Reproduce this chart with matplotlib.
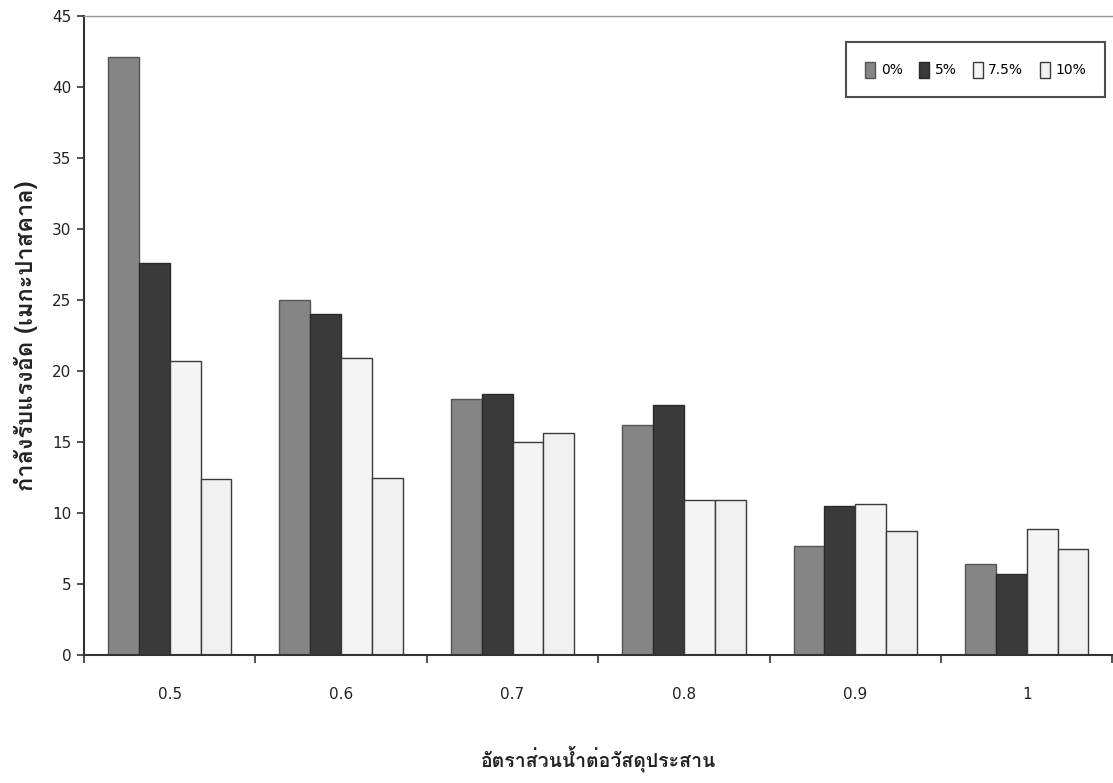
import matplotlib
matplotlib.use("Agg")
import matplotlib.pyplot as plt
import numpy as np
from matplotlib import font_manager
from matplotlib.ft2font import FT2Font

categories = ["0.5", "0.6", "0.7", "0.8", "0.9", "1"]
series_names = ["0%", "5%", "7.5%", "10%"]
s0 = [42.1, 25.0, 18.0, 16.2, 7.7, 6.4]
s5 = [27.6, 24.0, 18.4, 17.6, 10.5, 5.7]
s75 = [20.7, 20.9, 15.0, 10.9, 10.6, 8.9]
s10 = [12.4, 12.5, 15.6, 10.9, 8.7, 7.5]
y_ticks = [0, 5, 10, 15, 20, 25, 30, 35, 40, 45]
xlabel = "อัตราส่วนน้ำต่อวัสดุประสาน"
ylabel = "กำลังรับแรงอัด (เมกะปาสคาล)"

# find a font with Thai glyphs
thai_font = None
for f in font_manager.fontManager.ttflist:
    try:
        cm = FT2Font(f.fname).get_charmap()
        if 0x0E01 in cm and 0x0E32 in cm:
            thai_font = f.name
            break
    except Exception:
        pass
fams = ([thai_font] if thai_font else []) + ["DejaVu Sans"]

fig = plt.figure(figsize=(11.13, 7.83), dpi=100)
ax = fig.add_axes([84/1113, (783-655)/783, (1113-84)/1113 - 0.0005, (655-16)/783])

series = [s0, s5, s75, s10]
colors = ["#858585", "#3a3a3a", "#f4f4f4", "#f0f0f0"]
edges = ["#555555", "#2a2a2a", "#3a3a3a", "#3a3a3a"]
w = 0.18
x = np.arange(len(categories))
for i, (vals, c, e, name) in enumerate(zip(series, colors, edges, series_names)):
    ax.bar(x + (i - 1.5) * w, vals, width=w, color=c, edgecolor=e, linewidth=1.0, label=name)

ax.set_xlim(-0.5, len(categories) - 0.5)
ax.set_ylim(0, 45)
ax.set_yticks(y_ticks)
ax.set_yticklabels([str(t) for t in y_ticks], fontsize=11, color="#222222")
ax.set_xticks(x)
ax.set_xticklabels(categories, fontsize=11, color="#222222")
ax.tick_params(axis="x", length=0, pad=23)
ax.set_xticks(np.arange(len(categories) + 1) - 0.5, minor=True)
ax.tick_params(axis="x", which="minor", length=6, width=1.2, color="#333333", direction="out")
ax.tick_params(axis="y", length=5, width=1.2, color="#333333", direction="out", pad=4)

for s in ["left", "bottom"]:
    ax.spines[s].set_color("#333333")
    ax.spines[s].set_linewidth(1.5)
ax.spines["top"].set_color("#999999")
ax.spines["top"].set_linewidth(1.0)
ax.spines["right"].set_visible(False)

ax.set_xlabel(xlabel, fontsize=14, fontweight="bold", family=fams, color="#222222", labelpad=31)
ax.set_ylabel(ylabel, fontsize=17, fontweight="bold", family=fams, color="#222222", labelpad=10)

leg = ax.legend(loc="upper right", ncol=4, bbox_to_anchor=(1.0, 0.97), fontsize=10,
                frameon=True, fancybox=False, edgecolor="#222222", handlelength=0.7,
                handleheight=1.4, handletextpad=0.4, columnspacing=1.2, borderpad=1.4)
leg.get_frame().set_linewidth(1.5)

fig.savefig("out.png", dpi=100)
